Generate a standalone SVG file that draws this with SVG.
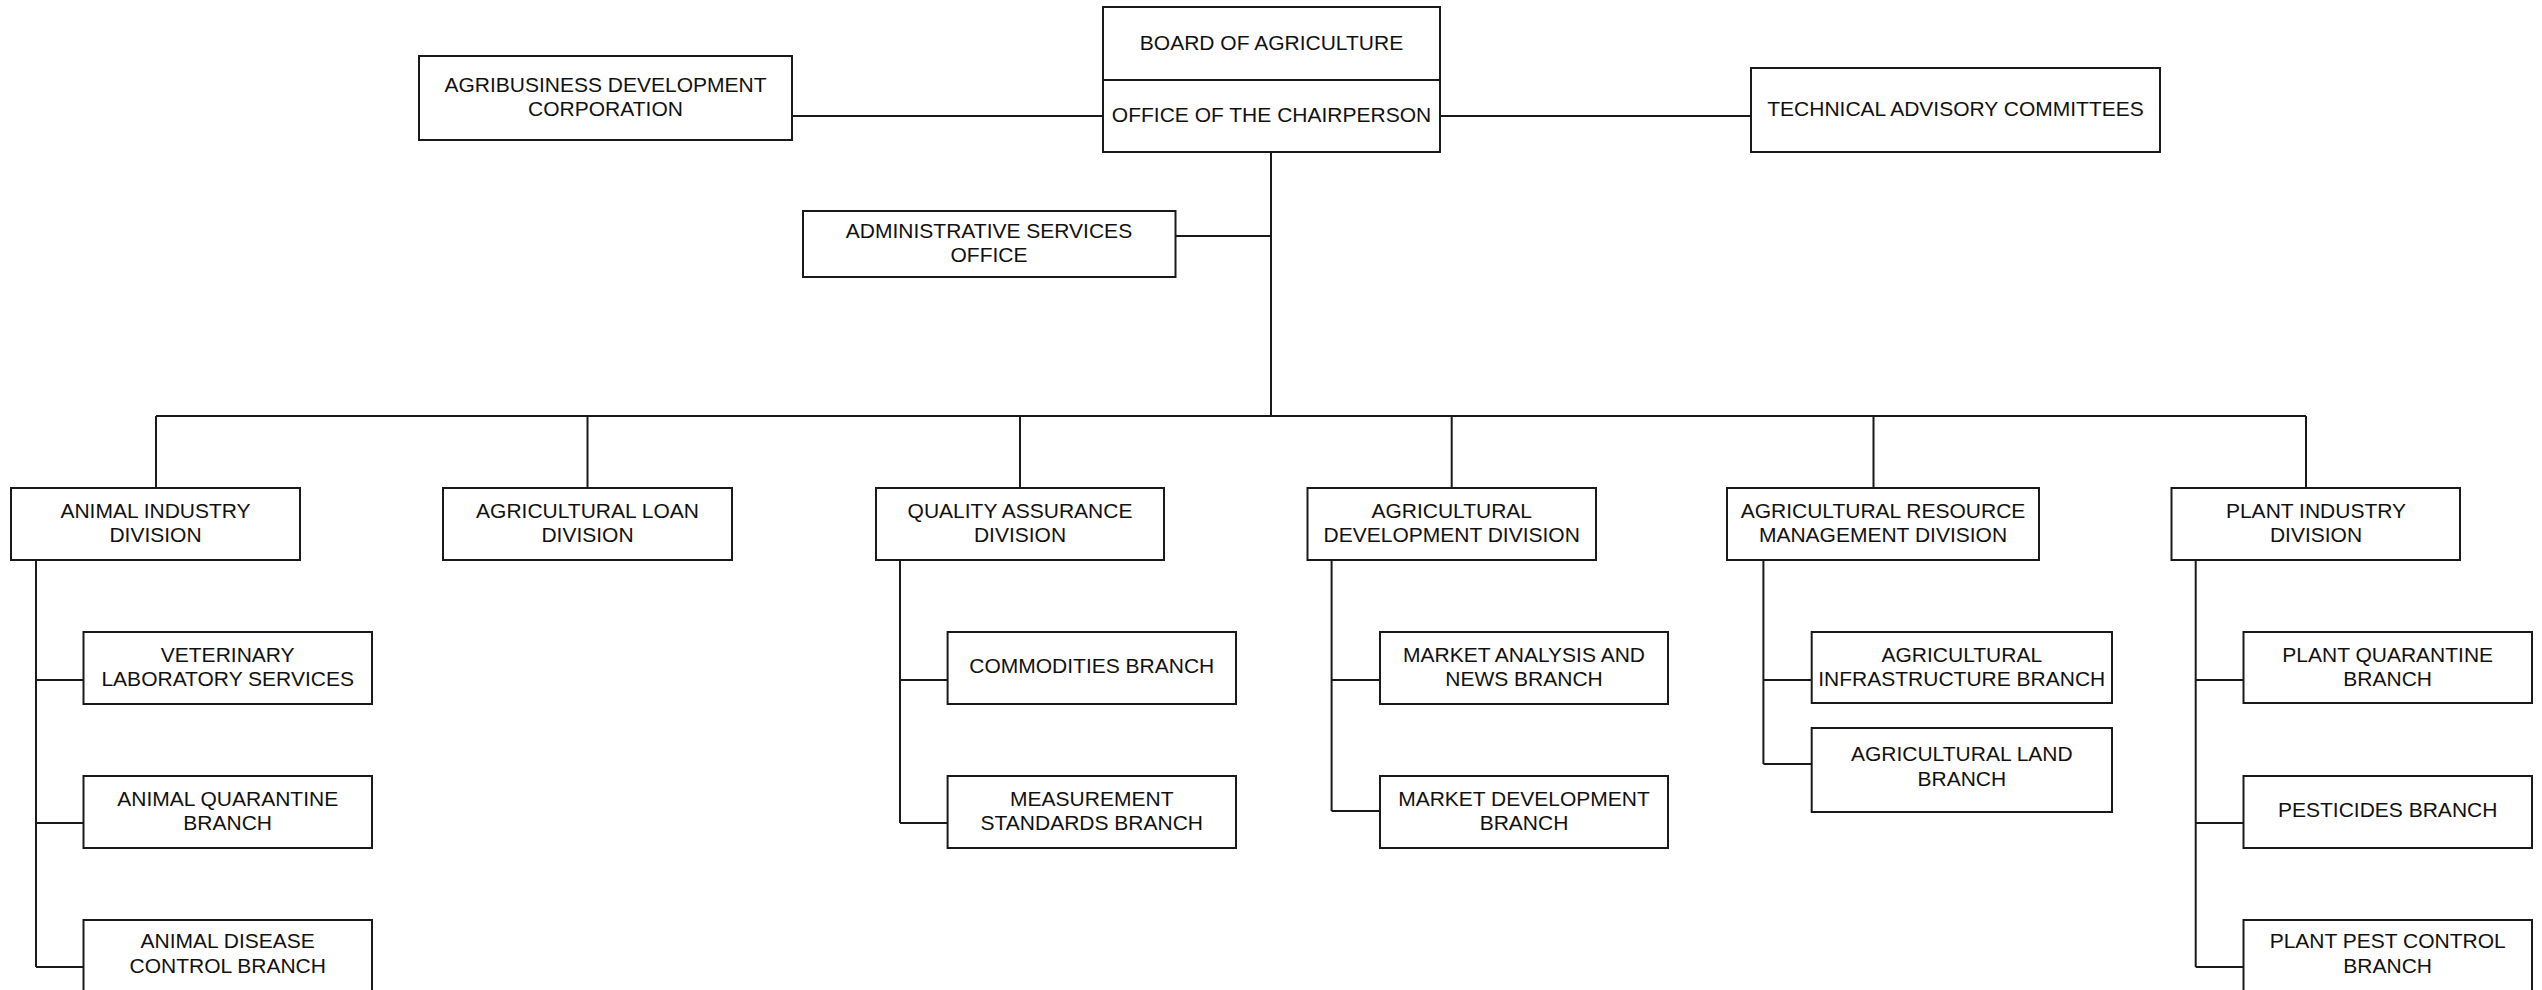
<svg xmlns="http://www.w3.org/2000/svg" width="2542" height="990" viewBox="0 0 2542 990">
<style>
.box{fill:#fff;stroke:#1a1a1a;stroke-width:2}
.ln{fill:none;stroke:#1a1a1a;stroke-width:2}
text{font-family:"Liberation Sans",Arial,sans-serif;font-size:21px;fill:#111;text-anchor:middle}
</style>
<rect x="0" y="0" width="2542" height="990" fill="#fff"/>
<g id="connectors" class="ln">
<path d="M792,116H1103M1440,116H1751M1175,236H1271M1271,152V416M156,416H2306"/>
<path d="M156,416V488M587.5,416V488M1020,416V488M1451.7,416V488M1873.5,416V488M2306,416V488"/>
<path d="M36,560V967M36,680H83.5M36,823H83.5M36,967H83.5"/>
<path d="M900,560V823M900,680H947.6M900,823H947.6"/>
<path d="M1331.6,560V811M1331.6,680H1380M1331.6,811H1380"/>
<path d="M1763.4,560V764M1763.4,680H1811.7M1763.4,764H1811.7"/>
<path d="M2195.7,560V967M2195.7,680H2243.5M2195.7,823H2243.5M2195.7,967H2243.5"/>
</g>
<g transform="translate(0,-1.5)">
<g id="board"><rect class="box" x="1103" y="8.5" width="337" height="73"/><text x="1271.5" y="51.5">BOARD OF AGRICULTURE</text></g>
<g id="office"><rect class="box" x="1103" y="81.5" width="337" height="72"/><text x="1271.5" y="123.5">OFFICE OF THE CHAIRPERSON</text></g>
<g id="agribusiness"><rect class="box" x="419" y="57.5" width="373" height="84"/><text x="605.5" y="93.25">AGRIBUSINESS DEVELOPMENT</text><text x="605.5" y="117.75">CORPORATION</text></g>
<g id="technical"><rect class="box" x="1751" y="69.5" width="409" height="84"/><text x="1955.5" y="117.5">TECHNICAL ADVISORY COMMITTEES</text></g>
<g id="admin"><rect class="box" x="803" y="212.5" width="372.5" height="66"/><text x="989" y="239.25">ADMINISTRATIVE SERVICES</text><text x="989" y="263.75">OFFICE</text></g>
<g id="animal-industry"><rect class="box" x="11" y="489.5" width="289" height="72"/><text x="155.5" y="519.25">ANIMAL INDUSTRY</text><text x="155.5" y="543.75">DIVISION</text></g>
<g id="agri-loan"><rect class="box" x="443" y="489.5" width="289" height="72"/><text x="587.5" y="519.25">AGRICULTURAL LOAN</text><text x="587.5" y="543.75">DIVISION</text></g>
<g id="quality"><rect class="box" x="876" y="489.5" width="288" height="72"/><text x="1020" y="519.25">QUALITY ASSURANCE</text><text x="1020" y="543.75">DIVISION</text></g>
<g id="agri-dev"><rect class="box" x="1307.5" y="489.5" width="288.5" height="72"/><text x="1451.7" y="519.25">AGRICULTURAL</text><text x="1451.7" y="543.75">DEVELOPMENT DIVISION</text></g>
<g id="arm"><rect class="box" x="1727" y="489.5" width="312" height="72"/><text x="1883" y="519.25">AGRICULTURAL RESOURCE</text><text x="1883" y="543.75">MANAGEMENT DIVISION</text></g>
<g id="plant-industry"><rect class="box" x="2171.5" y="489.5" width="288.5" height="72"/><text x="2316" y="519.25">PLANT INDUSTRY</text><text x="2316" y="543.75">DIVISION</text></g>
<g id="vet"><rect class="box" x="83.5" y="633.5" width="288.5" height="72"/><text x="227.7" y="663.25">VETERINARY</text><text x="227.7" y="687.75">LABORATORY SERVICES</text></g>
<g id="animal-quarantine"><rect class="box" x="83.5" y="777.5" width="288.5" height="72"/><text x="227.7" y="807.25">ANIMAL QUARANTINE</text><text x="227.7" y="831.75">BRANCH</text></g>
<g id="animal-disease"><rect class="box" x="83.5" y="921.5" width="288.5" height="72"/><text x="227.7" y="949.5">ANIMAL DISEASE</text><text x="227.7" y="974">CONTROL BRANCH</text></g>
<g id="commodities"><rect class="box" x="947.6" y="633.5" width="288.4" height="72"/><text x="1091.8" y="674">COMMODITIES BRANCH</text></g>
<g id="measurement"><rect class="box" x="947.6" y="777.5" width="288.4" height="72"/><text x="1091.8" y="807.25">MEASUREMENT</text><text x="1091.8" y="831.75">STANDARDS BRANCH</text></g>
<g id="market-analysis"><rect class="box" x="1380" y="633.5" width="288" height="72"/><text x="1524" y="663.25">MARKET ANALYSIS AND</text><text x="1524" y="687.75">NEWS BRANCH</text></g>
<g id="market-dev"><rect class="box" x="1380" y="777.5" width="288" height="72"/><text x="1524" y="807.25">MARKET DEVELOPMENT</text><text x="1524" y="831.75">BRANCH</text></g>
<g id="infrastructure"><rect class="box" x="1811.7" y="633.5" width="300.3" height="71"/><text x="1961.8" y="663">AGRICULTURAL</text><text x="1961.8" y="687.5">INFRASTRUCTURE BRANCH</text></g>
<g id="land"><rect class="box" x="1811.7" y="729.5" width="300.3" height="84"/><text x="1961.8" y="762.5">AGRICULTURAL LAND</text><text x="1961.8" y="787">BRANCH</text></g>
<g id="plant-quarantine"><rect class="box" x="2243.5" y="633.5" width="288.5" height="71"/><text x="2387.7" y="663">PLANT QUARANTINE</text><text x="2387.7" y="687.5">BRANCH</text></g>
<g id="pesticides"><rect class="box" x="2243.5" y="777.5" width="288.5" height="72"/><text x="2387.7" y="818">PESTICIDES BRANCH</text></g>
<g id="plant-pest"><rect class="box" x="2243.5" y="921.5" width="288.5" height="72"/><text x="2387.7" y="949.5">PLANT PEST CONTROL</text><text x="2387.7" y="974">BRANCH</text></g>
</g>
</svg>
